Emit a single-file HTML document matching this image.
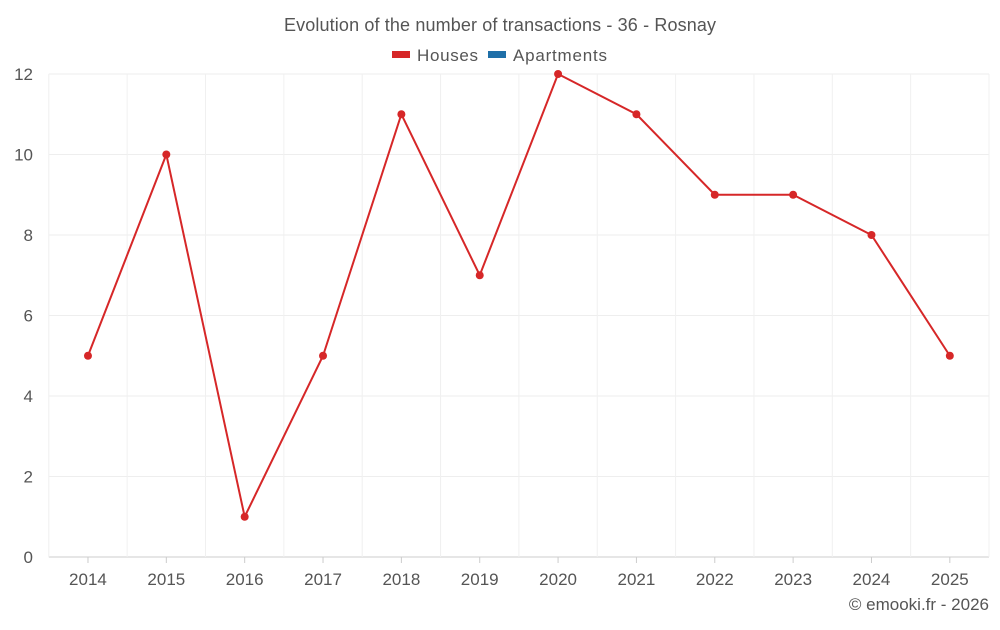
<!DOCTYPE html>
<html><head><meta charset="utf-8"><style>
body{margin:0;background:#fff;font-family:"Liberation Sans",sans-serif;}
svg text{font-family:"Liberation Sans",sans-serif;}
</style></head><body>
<svg width="1000" height="625" id="c">
<text x="500" y="31" text-anchor="middle" font-size="18" fill="#555" textLength="432">Evolution of the number of transactions - 36 - Rosnay</text>
<g><rect x="392" y="51" width="18" height="7" fill="#d62728"/><text x="417" y="61" font-size="17" fill="#555" textLength="61">Houses</text></g>
<g><rect x="488" y="51" width="18" height="7" fill="#1f6fa8"/><text x="513" y="61" font-size="17" fill="#555" textLength="94">Apartments</text></g>
<text x="989" y="610" text-anchor="end" font-size="17" fill="#555">© emooki.fr - 2026</text>
<g id="grid"></g><g id="axes"></g><g id="series"></g>
</svg>
<script>
const categories=["2014","2015","2016","2017","2018","2019","2020","2021","2022","2023","2024","2025"];
const houses=[5,10,1,5,11,7,12,11,9,9,8,5];
const yTicks=[0,2,4,6,8,10,12];
const L=48.8,R=989,T=74,B=557,yMax=12;
const NS="http://www.w3.org/2000/svg";
const bw=(R-L)/categories.length;
const xs=i=>L+bw*(i+0.5);
const ys=v=>B-(B-T)*v/yMax;
function mk(t,a,p){const e=document.createElementNS(NS,t);for(const k in a)e.setAttribute(k,a[k]);p.appendChild(e);return e;}
const g=document.getElementById('grid'),ax=document.getElementById('axes'),s=document.getElementById('series');
yTicks.forEach(v=>{
 const l=mk('line',{x1:L,x2:R,y1:ys(v),y2:ys(v),stroke:v===0?'#ccc':'#eee'},g);
 
 
 const t=mk('text',{x:33,y:ys(v)+6,'text-anchor':'end','font-size':17,fill:'#555'},ax);t.textContent=v;
 
 
});
for(let i=0;i<=categories.length;i++){
 const l=mk('line',{x1:L+bw*i,x2:L+bw*i,y1:T,y2:B,stroke:'#f0f0f0'},g);
 
 
}
categories.forEach((c,i)=>{
 const tk=mk('line',{x1:xs(i),x2:xs(i),y1:B,y2:B+6,stroke:'#ccc'},ax);
 
 
 const t=mk('text',{x:xs(i),y:585,'text-anchor':'middle','font-size':17,fill:'#555'},ax);t.textContent=c;
 
 
});
const p=mk('polyline',{points:houses.map((v,i)=>xs(i)+','+ys(v)).join(' '),fill:'none',stroke:'#d62728','stroke-width':2},s);


houses.forEach((v,i)=>{
 const c=mk('circle',{cx:xs(i),cy:ys(v),r:4,fill:'#d62728'},s);
 
 
});
</script>
</body></html>
